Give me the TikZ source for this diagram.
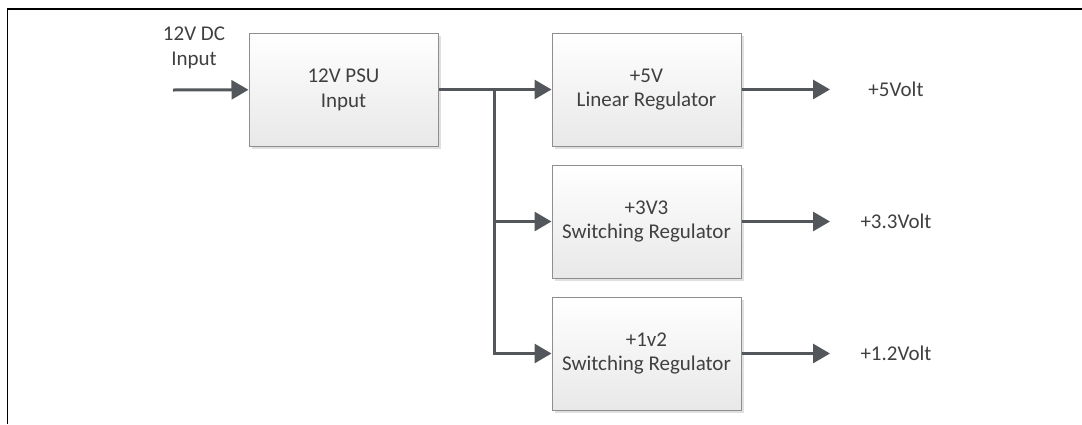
\documentclass[tikz,border=0pt]{standalone}
\usepackage{fontspec}
\setmainfont{Carlito}
\usetikzlibrary{arrows.meta,shadows}
\definecolor{wire}{HTML}{53575C}
\definecolor{txt}{HTML}{404040}
\definecolor{edge}{HTML}{8E8E8E}

\begin{document}
\begin{tikzpicture}[x=0.5pt,y=-0.5pt,line width=0.5pt,font=\fontsize{10.5}{12.4}\selectfont,text=txt,
  blk/.style={draw=edge,top color=white,bottom color=black!9,minimum width=94.5pt,minimum height=56.5pt,
    align=center,inner sep=0pt,general shadow={fill=black!12,shadow xshift=1.5pt,shadow yshift=-1.5pt}},
  wr/.style={draw=wire,line width=1.5pt,-{Triangle[length=8.5pt,width=9.5pt]}}]
\path[use as bounding box] (0,0) rectangle (1082,424);
\draw[line width=0.85pt] (1082,9) -- (7.5,9) -- (7.5,424);
% supply input
\node[align=center] (inlbl) at (194,48) {12V DC\\Input};
\coordinate (in) at (173,90);
\node[blk] (psu) at (343.5,89.5) {12V PSU\\Input};
\draw[wr] (in) -- (psu);
% regulators
\node[blk] (r5) at (646.5,89.5) {+5V\\Linear Regulator};
\node[blk] (r33) at (646.5,221.5) {+3V3\\Switching Regulator};
\node[blk] (r12) at (646.5,353.5) {+1v2\\Switching Regulator};
\coordinate (j) at (494,89.5);
\draw[wr] (psu) -- (r5);
\draw[wr] (j) |- (r33);
\draw[wr] (j) |- (r12);
% outputs
\foreach \r/\y/\v in {r5/89.5/+5Volt,r33/221.5/+3.3Volt,r12/353.5/+1.2Volt} {
  \coordinate (o\r) at (830,\y);
  \node (l\r) at (896,\y) {\v};
  \draw[wr] (\r) -- (o\r);
}
\end{tikzpicture}
\end{document}
